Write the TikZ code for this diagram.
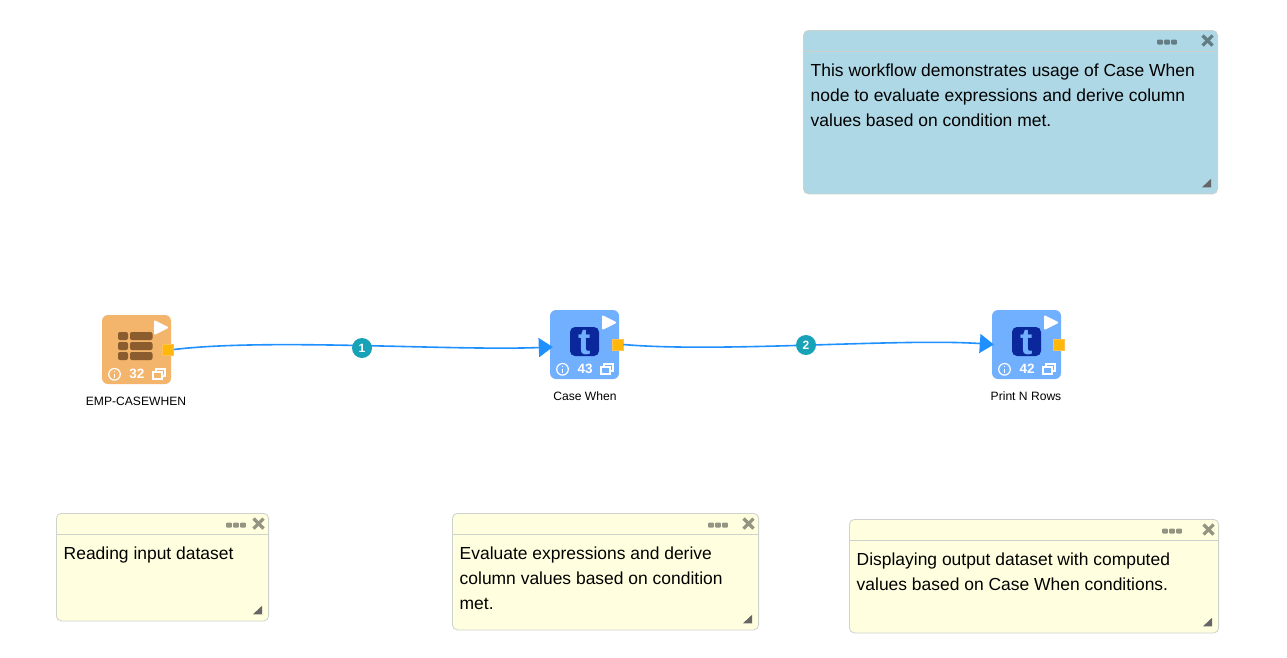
\documentclass[tikz,border=0pt]{standalone}
\usepackage{fontspec}
\setmainfont{Liberation Sans}
\usetikzlibrary{arrows.meta,positioning,calc}
\definecolor{noteBlue}{RGB}{174,216,230}
\definecolor{noteYellow}{RGB}{255,255,224}
\definecolor{noteEdge}{RGB}{205,210,205}
\definecolor{cardOrange}{RGB}{243,180,107}
\definecolor{cardBlue}{RGB}{112,176,255}
\definecolor{tableBrown}{RGB}{138,92,46}
\definecolor{tileNavy}{RGB}{10,40,155}
\definecolor{portAmber}{RGB}{255,184,10}
\definecolor{flowBlue}{RGB}{30,144,255}
\definecolor{badgeTeal}{RGB}{23,162,184}

% the small controls every workflow card carries
\newcommand{\cardcontrols}[2]{%
  \begin{scope}[shift={(#1.center)}]
    \fill[white,draw=white,line width=2pt,line join=round]
      (18.5,-28) -- (30.5,-22) -- (18.5,-16) -- cycle;
    \draw[white,line width=1.2pt] (-22,24.8) circle (5.8);
    \draw[white,line width=1.2pt] (-22,21.8) -- (-22,22.9) (-22,24.2) -- (-22,28);
    \node[count] (#1count) at (0.5,24) {#2};
    \draw[white,line width=1.2pt] (16.5,22.5) rectangle (25.5,29.5);
    \draw[white,line width=1.2pt] (19.5,22.5) -- (19.5,19.5) -- (28.5,19.5) -- (28.5,26.5) -- (25.5,26.5);
  \end{scope}%
}
% the tile with the letter, two of the cards use it
\newcommand{\ticon}[1]{%
  \node[tile,anchor=center] (#1tile) at ($(#1.center)+(0,-3)$) {};
  \node[tletter] (#1letter) at ($(#1tile.center)+(0,1.5)$) {t};
}

\begin{document}
\begin{tikzpicture}[x=1pt,y=-1pt,
    note/.style={draw=noteEdge,line width=0.8pt,rounded corners=5pt,inner sep=0pt,anchor=north west},
    notetext/.style={anchor=north west,inner sep=0pt,align=left,font=\fontsize{17.45}{24.9}\selectfont},
    noteicon/.style={black,opacity=0.42},
    card/.style={rounded corners=6pt,minimum size=69pt,inner sep=0pt},
    tile/.style={fill=tileNavy,rounded corners=5pt,minimum size=29pt,inner sep=0pt},
    tletter/.style={text=cardBlue,inner sep=0pt,font=\fontsize{37}{37}\bfseries\selectfont},
    count/.style={text=white,inner sep=0pt,font=\fontsize{13.5}{13.5}\bfseries\selectfont},
    port/.style={fill=portAmber,draw=portAmber!70!orange!70,line width=0.6pt,minimum size=11pt,inner sep=0pt},
    cardlabel/.style={inner sep=0pt,font=\fontsize{12.1}{14}\selectfont},
    flow/.style={draw=flowBlue,line width=1.6pt,-{Triangle[length=14pt,width=19pt]}},
    badge/.style={circle,fill=badgeTeal,text=white,minimum size=20pt,inner sep=0pt,font=\fontsize{12}{12}\bfseries\selectfont}
  ]
  \useasboundingbox (0,0) rectangle (1287,657);
  \fill[white] (0,0) rectangle (1287,657);

  % sticky notes
  \foreach \noteid/\xa/\ya/\notew/\noteh/\fillc/\dotx/\notebody in {
      blue/803/30/414.2/163.5/noteBlue/1167/{This workflow demonstrates usage of Case When\\node to evaluate expressions and derive column\\values based on condition met.},
      read/56/513/212.2/107.5/noteYellow/236/{Reading input dataset},
      eval/452/513/306.2/116.5/noteYellow/718/{Evaluate expressions and derive\\column values based on condition\\met.},
      show/849/519/369.2/113.5/noteYellow/1172/{Displaying output dataset with computed\\values based on Case When conditions.}} {
    \node[note,fill=\fillc,minimum width=\notew pt,minimum height=\noteh pt] (\noteid) at (\xa,\ya) {};
    \draw[noteEdge,line width=0.7pt] ($(\noteid.north west)+(0,21.5)$) -- ($(\noteid.north east)+(0,21.5)$);
    \node[notetext] (\noteid text) at ($(\noteid.north west)+(7.5,33.5)$) {\notebody};
    \foreach \dx in {-7,0,7}
      \fill[noteicon,rounded corners=1pt] (\dotx+\dx-2.8,\ya+9.5) rectangle (\dotx+\dx+2.8,\ya+14.7);
    \draw[noteicon,line width=3.2pt]
      ($(\noteid.north east)+(-15.5,5.5)$) -- ($(\noteid.north east)+(-5.5,15.5)$)
      ($(\noteid.north east)+(-5.5,5.5)$) -- ($(\noteid.north east)+(-15.5,15.5)$);
    \fill[black!60] ($(\noteid.south east)+(-7,-15.5)$) -- ($(\noteid.south east)+(-7,-7)$) -- ($(\noteid.south east)+(-16,-7)$) -- cycle;
  }

  % workflow cards
  \node[card,fill=cardOrange] (source) at (136.5,349.5) {};
  \node[card,fill=cardBlue] (casewhen) at (584.5,344.5) {};
  \node[card,fill=cardBlue] (printrows) at (1026.5,344.5) {};

  \foreach \yy in {-17.5,-7.5,2.5} {
    \fill[tableBrown,rounded corners=2pt] ($(source.center)+(-18.5,\yy)$) rectangle ($(source.center)+(-8.5,\yy+8)$);
    \fill[tableBrown,rounded corners=2pt] ($(source.center)+(-6.5,\yy)$) rectangle ($(source.center)+(16,\yy+8)$);
  }
  \ticon{casewhen}
  \ticon{printrows}

  \cardcontrols{source}{32}
  \cardcontrols{casewhen}{43}
  \cardcontrols{printrows}{42}

  \node[port] (sourceport) at ($(source.center)+(31.5,0)$) {};
  \node[port] (casewhenport) at ($(casewhen.center)+(33,0)$) {};
  \node[port] (printrowsport) at ($(printrows.center)+(32,0)$) {};

  \node[cardlabel] (sourcelabel) at (136,401) {EMP-CASEWHEN};
  \node[cardlabel] (casewhenlabel) at (585,396) {Case When};
  \node[cardlabel] (printrowslabel) at (1026,396) {Print N Rows};

  % connectors
  \draw[flow] (sourceport.east) .. controls (270,338) and (450,351) .. ($(casewhen.west)+(3,2.5)$);
  \draw[flow] (casewhenport.east) .. controls (720,353) and (900,338) .. ($(printrows.west)+(2,0)$);
  \node[badge] (badgeone) at (362,348) {1};
  \node[badge] (badgetwo) at (806,345) {2};
\end{tikzpicture}
\end{document}
